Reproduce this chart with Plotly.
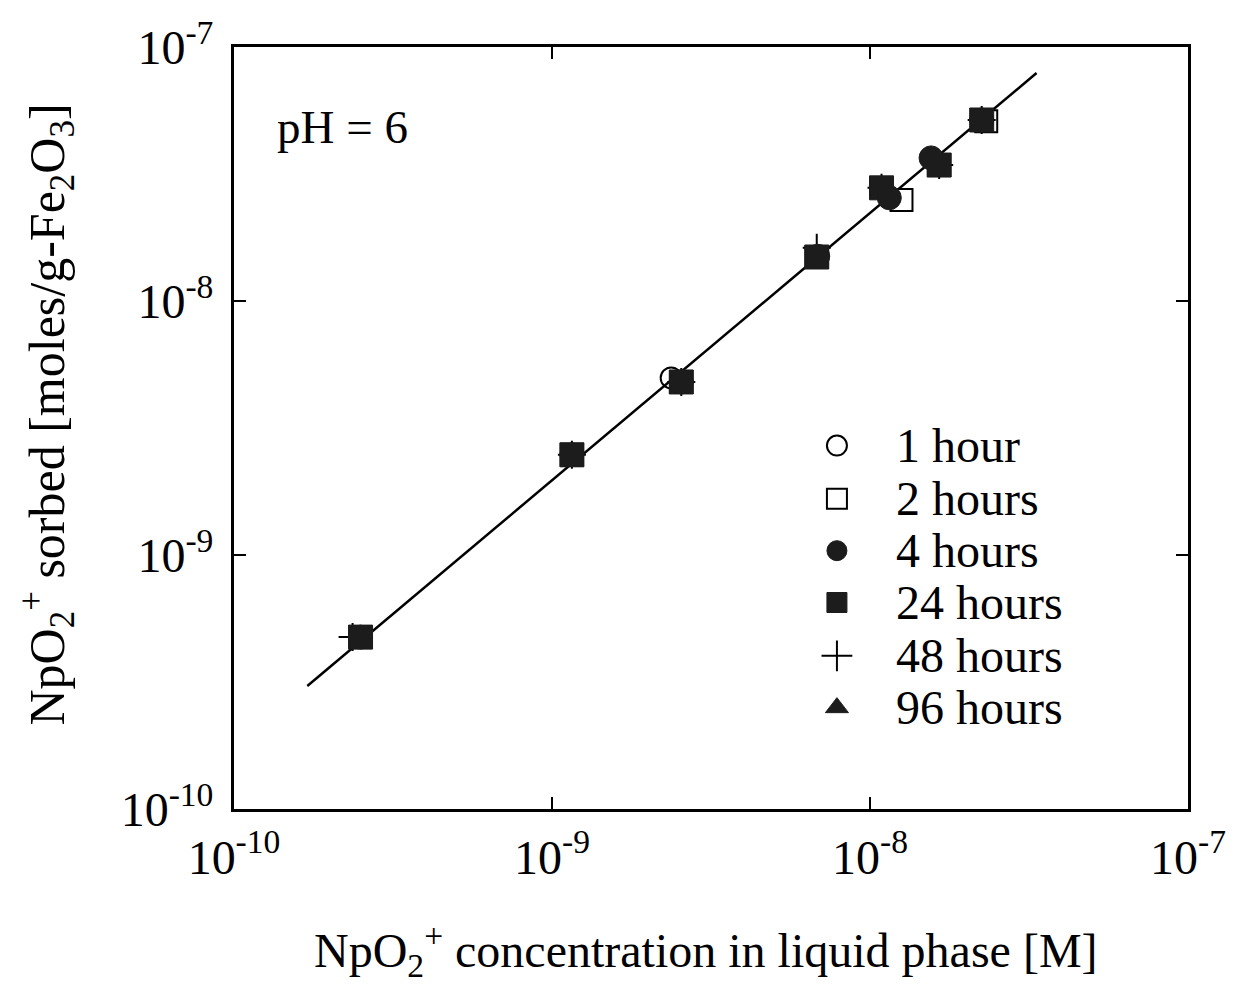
import plotly.graph_objects as go

# Sorption isotherm of NpO2+ on Fe2O3 at pH 6, by contact time
series_names = ["1 hour", "2 hours", "4 hours", "24 hours", "48 hours", "96 hours"]

x_1h = [2.50e-10, 1.155e-9, 2.37e-9, 6.80e-9, 1.087e-8, 1.65e-8, 2.245e-8]
y_1h = [4.75e-10, 2.48e-9, 4.98e-9, 1.49e-8, 2.79e-8, 3.43e-8, 5.16e-8]

x_2h = [2.50e-10, 1.155e-9, 2.55e-9, 6.80e-9, 1.256e-8, 1.65e-8, 2.32e-8]
y_2h = [4.75e-10, 2.48e-9, 4.80e-9, 1.49e-8, 2.50e-8, 3.43e-8, 5.10e-8]

x_4h = [2.50e-10, 1.155e-9, 2.55e-9, 6.85e-9, 1.15e-8, 1.556e-8, 2.245e-8]
y_4h = [4.75e-10, 2.48e-9, 4.80e-9, 1.50e-8, 2.55e-8, 3.66e-8, 5.16e-8]

x_24h = [2.50e-10, 1.155e-9, 2.55e-9, 6.80e-9, 1.087e-8, 1.65e-8, 2.245e-8]
y_24h = [4.75e-10, 2.48e-9, 4.80e-9, 1.49e-8, 2.79e-8, 3.43e-8, 5.16e-8]

x_48h = [2.36e-10, 1.155e-9, 2.55e-9, 6.80e-9, 1.087e-8, 1.65e-8, 2.245e-8]
y_48h = [4.75e-10, 2.48e-9, 4.80e-9, 1.62e-8, 2.79e-8, 3.43e-8, 5.16e-8]

x_96h = [2.50e-10, 1.155e-9, 2.55e-9, 6.80e-9, 1.087e-8, 1.65e-8, 2.245e-8]
y_96h = [4.75e-10, 2.48e-9, 4.80e-9, 1.49e-8, 2.79e-8, 3.43e-8, 5.16e-8]

# Fitted isotherm line (end points)
fit_x = [1.70e-10, 3.34e-8]
fit_y = [3.05e-10, 7.90e-8]

tick_vals = [1e-10, 1e-9, 1e-8, 1e-7]
tick_text = ["10<sup>-10</sup>", "10<sup>-9</sup>", "10<sup>-8</sup>", "10<sup>-7</sup>"]

FONT = "Liberation Serif, Times New Roman, serif"
DARK = "#1c1c1c"

styles = {
    "1 hour": dict(symbol="circle-open", size=21, color="black", line=dict(width=2, color="black")),
    "2 hours": dict(symbol="square", size=22, color="white", line=dict(width=2, color="black")),
    "4 hours": dict(symbol="circle", size=24, color=DARK, line=dict(width=1, color=DARK)),
    "24 hours": dict(symbol="square", size=24, color=DARK, line=dict(width=1, color=DARK)),
    "48 hours": dict(symbol="cross-thin", size=20, color="black", line=dict(width=2, color="black")),
    "96 hours": dict(symbol="triangle-up", size=20, color=DARK, line=dict(width=1, color=DARK)),
}
data = {
    "1 hour": (x_1h, y_1h),
    "2 hours": (x_2h, y_2h),
    "4 hours": (x_4h, y_4h),
    "24 hours": (x_24h, y_24h),
    "48 hours": (x_48h, y_48h),
    "96 hours": (x_96h, y_96h),
}

fig = go.Figure()

fig.add_trace(go.Scatter(x=fit_x, y=fit_y, mode="lines",
                         line=dict(color="black", width=2.5), showlegend=False))

# open symbols underneath, filled ones on top
draw_order = ["1 hour", "2 hours", "96 hours", "48 hours", "24 hours", "4 hours"]
for name in draw_order:
    xs, ys = data[name]
    fig.add_trace(go.Scatter(x=xs, y=ys, mode="markers", name=name,
                             marker=styles[name], showlegend=False))

# key drawn on a hidden unit overlay axis
key_x = 0.632
key_text_x = 0.692
key_y = [0.477, 0.407, 0.339, 0.271, 0.201, 0.133]
key_sizes = {"1 hour": 20, "2 hours": 20, "4 hours": 20, "24 hours": 20,
             "48 hours": 22, "96 hours": 20}
for name, ky in zip(series_names, key_y):
    st = dict(styles[name])
    st["size"] = key_sizes[name]
    fig.add_trace(go.Scatter(x=[key_x], y=[ky], xaxis="x2", yaxis="y2", mode="markers",
                             marker=st, showlegend=False, hoverinfo="skip"))
    fig.add_annotation(x=key_text_x, y=ky, xref="x2", yref="y2", text=name,
                       showarrow=False, xanchor="left", yanchor="middle",
                       font=dict(family=FONT, size=48, color="black"))

axis_common = dict(
    type="log", tickmode="array", tickvals=tick_vals, ticktext=tick_text,
    ticks="inside", ticklen=12, tickwidth=2, tickcolor="black",
    showline=True, linewidth=3, linecolor="black", mirror="ticks",
    showgrid=False, zeroline=False,
    tickfont=dict(family=FONT, size=48, color="black"),
)

fig.update_layout(
    width=1238, height=991,
    margin=dict(l=234, r=42, t=47, b=182),
    paper_bgcolor="white", plot_bgcolor="white",
    xaxis=dict(range=[-10, -7], ticklabelstandoff=4, **axis_common),
    yaxis=dict(range=[-10, -7], ticklabelstandoff=8, **axis_common),
    xaxis2=dict(overlaying="x", range=[0, 1], visible=False, fixedrange=True),
    yaxis2=dict(overlaying="y", range=[0, 1], visible=False, fixedrange=True),
    showlegend=False,
)

fig.add_annotation(x=(275 - 234) / 962, y=0.895, xref="paper", yref="paper", text="pH = 6",
                   showarrow=False, xanchor="left", yanchor="middle",
                   font=dict(family=FONT, size=47, color="black"))

fig.add_annotation(x=(710 - 234) / 962, y=(809 - 950) / 762, xref="paper", yref="paper",
                   text="NpO<sub>2</sub><sup>+</sup> concentration in liquid phase [M]",
                   showarrow=False, xanchor="center", yanchor="middle",
                   font=dict(family=FONT, size=48, color="black"))

fig.add_annotation(x=(45 - 234) / 962, y=(809 - 415) / 762, xref="paper", yref="paper",
                   text="NpO<sub>2</sub><sup>+</sup> sorbed [moles/g-Fe<sub>2</sub>O<sub>3</sub>]",
                   textangle=-90, showarrow=False, xanchor="center", yanchor="middle",
                   font=dict(family=FONT, size=50, color="black"))

fig.write_html("out.html")
